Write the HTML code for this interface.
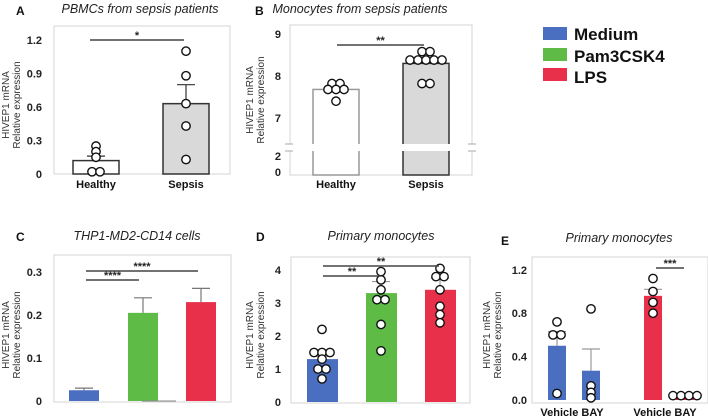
<!DOCTYPE html>
<html><head><meta charset="utf-8"><style>
body{margin:0;background:#fff}
svg{display:block;font-family:"Liberation Sans",sans-serif}
.tk{font-size:11px;font-weight:bold;fill:#222}
.yl{font-size:10px;fill:#333}
.tt{font-size:12.5px;font-style:italic;fill:#222}
.pl{font-size:12px;font-weight:bold;fill:#111}
.xl{font-size:11px;font-weight:bold;fill:#111}
</style></head><body>
<svg id="fig" width="708" height="420" viewBox="0 0 708 420">
<g>
<rect x="543" y="27" width="24" height="13" fill="#4a6fc0"/>
<text x="574" y="40" font-size="17" font-weight="bold" fill="#111">Medium</text>
<rect x="543" y="48" width="24" height="13" fill="#5dbb46"/>
<text x="574" y="62" font-size="17" font-weight="bold" fill="#111">Pam3CSK4</text>
<rect x="543" y="68" width="24" height="13" fill="#e8304a"/>
<text x="574" y="83" font-size="17" font-weight="bold" fill="#111">LPS</text>
</g>
</svg>
<script>
// Panel A
const aCats=["Healthy","Sepsis"];const aMeans=[0.12,0.63];const aErr=[0.16,0.8];
const aPts=[[0.25,0.2,0.15,0.02,0.02],[1.1,0.88,0.63,0.43,0.13]];const aTicks=[0,0.3,0.6,0.9,1.2];
// Panel B
const bCats=["Healthy","Sepsis"];const bMeans=[7.68,8.3];const bErr=[7.74,8.3];
const bPts=[[7.82,7.82,7.68,7.68,7.68,7.4],[8.58,8.58,8.38,8.38,8.38,8.38,8.38,7.82,7.82]];const bTicks=[7,8,9];const bLowTicks=[0,2];
// Panel C
const cMeans=[0.025,0.205,0.23];const cErr=[0.03,0.24,0.262];const cTicks=[0,0.1,0.2,0.3];
// Panel D
const dMeans=[1.3,3.3,3.4];const dErr=[1.38,3.65,3.75];
const dPts=[[2.2,1.5,1.5,1.5,1.3,1.0,1.0,0.7],[3.95,3.7,3.4,3.1,3.1,2.35,1.55],[4.05,3.8,3.8,3.4,2.9,2.65,2.4]];const dTicks=[0,1,2,3,4];
// Panel E
const eMeans=[0.5,0.27,0.96,0.04];const eErr=[0.63,0.47,1.02,0.04];
const ePts=[[0.72,0.6,0.6,0.06],[0.84,0.13,0.07,0.02],[1.12,1.0,0.9,0.8],[0.04,0.04,0.04,0.04]];const eTicks=[0,0.4,0.8,1.2];
const eTickLabels=["0.0","0.4","0.8","1.2"];

const svg=document.getElementById('fig');const NS="http://www.w3.org/2000/svg";
function mk(t,a,p){const e=document.createElementNS(NS,t);for(const k in a)e.setAttribute(k,a[k]);(p||svg).appendChild(e);return e;}
function txt(x,y,s,cls,extra){const e=mk('text',Object.assign({x:x,y:y,class:cls},extra||{}));e.textContent=s;return e;}
function frame(x0,y0,x1,y1,name){const r=mk('rect',{x:x0,y:y0,width:x1-x0,height:y1-y0,fill:'none',stroke:'#d4d4d4'});

}
function ylab(cx,cy,name){const g=mk('g',{transform:`translate(${cx},${cy}) rotate(-90)`});


const t1=mk('text',{x:0,y:0,class:'yl','text-anchor':'middle'},g);t1.textContent='HIVEP1 mRNA';
const t2=mk('text',{x:0,y:11,class:'yl','text-anchor':'middle'},g);t2.textContent='Relative  expression';}
function ticks(arr,labels,y,x,name){arr.forEach((v,i)=>{const t=txt(x,y(v)+4,labels?labels[i]:String(v),'tk',{'text-anchor':'end'});

});}
function bar(x0,w,y,v,fill,stroke,name){const r=mk('rect',{x:x0,y:y(v),width:w,height:y(0)-y(v),fill:fill,stroke:stroke,'stroke-width':stroke=='none'?0:1.5});

}
function err(cx,y,m,e,col){if(e<=m)return;const l=mk('line',{x1:cx,x2:cx,y1:y(m),y2:y(e),stroke:col,'stroke-width':1.2});


mk('line',{x1:cx-9,x2:cx+9,y1:y(e),y2:y(e),stroke:col,'stroke-width':1.2});}
function pts(cx,y,vals,name){const cnt={};vals.forEach(v=>{cnt[v]=(cnt[v]||0)+1;});const seen={};
vals.forEach(v=>{const n=cnt[v];const i=seen[v]=(seen[v]||0);seen[v]++;const dx=(i-(n-1)/2)*8;
const c=mk('circle',{cx:cx+dx,cy:y(v),r:4.2,fill:'#fff',stroke:'#111','stroke-width':1.4});

});}
function sig(x0,x1,yy,s,name){const l=mk('line',{x1:x0,x2:x1,y1:yy,y2:yy,stroke:'#444','stroke-width':1.5});


txt((x0+x1)/2,yy-1,s,'tk',{'text-anchor':'middle','font-size':10});}
function head(lx,ly,letter,tx,ty,title,name){const a=txt(lx,ly,letter,'pl');


const t=txt(tx,ty,title,'tt',{'text-anchor':'middle'});

}

// A
(function(){const y=v=>174-v*(134/1.2);frame(54,26,230,174,'panel-a');head(16,15,'A',140,13,'PBMCs from sepsis patients','panel-a');
ylab(9,105,'panel-a');ticks(aTicks,null,y,42,'panel-a');const cx=[96,186];
aCats.forEach((c,i)=>{bar(cx[i]-23,46,y,aMeans[i],i?'#d9d9d9':'#fff','#333','panel-a-bar-'+c.toLowerCase());err(cx[i],y,aMeans[i],aErr[i],'#333');pts(cx[i],y,aPts[i],'panel-a');
const t=txt(cx[i],188,c,'xl',{'text-anchor':'middle'});});
sig(90,184,40,'*','panel-a-sig');})();
// B
(function(){const y=v=>34+(9-v)*42;const yl=v=>172-v*8;frame(290,25,472,175,'panel-b');head(255,15,'B',360,13,'Monocytes from sepsis patients','panel-b');
ylab(253,100,'panel-b');ticks(bTicks,null,y,281,'panel-b');ticks(bLowTicks,null,yl,281,'panel-b');const cx=[336,426];
bCats.forEach((c,i)=>{const r=mk('rect',{x:cx[i]-23,y:y(bMeans[i]),width:46,height:175-y(bMeans[i]),fill:i?'#d9d9d9':'#fff',stroke:i?'#333':'#999','stroke-width':1.5});


err(cx[i],y,bMeans[i],bErr[i],'#333');pts(cx[i],y,bPts[i],'panel-b');
const t=txt(cx[i],188,c,'xl',{'text-anchor':'middle'});});
mk('rect',{x:285,y:144,width:192,height:7,fill:'#fff'});
[[285,144],[285,151],[468,144],[468,151]].forEach(p=>mk('line',{x1:p[0],x2:p[0]+8,y1:p[1],y2:p[1],stroke:'#aaa'}));
sig(337,424,45,'**','panel-b-sig');})();
// C
(function(){const y=v=>401-v*430;frame(54,255,231,402,'panel-c');head(16,241,'C',137,240,'THP1-MD2-CD14 cells','panel-c');
ylab(9,335,'panel-c');ticks(cTicks,null,y,42,'panel-c');const cx=[84,143,201];const cols=['#4a6fc0','#5dbb46','#e8304a'];
cMeans.forEach((m,i)=>{bar(cx[i]-15,30,y,m,cols[i],'none','panel-c-bar');err(cx[i],y,m,cErr[i],'#777');});
mk('line',{x1:142,x2:176,y1:401,y2:401,stroke:'#888','stroke-width':1});
sig(86,198,271,'****','panel-c-sig-lps');sig(86,139,280,'****','panel-c-sig-pam');})();
// D
(function(){const y=v=>402-v*33;frame(291,257,470,403,'panel-d');head(256,241,'D',381,240,'Primary monocytes','panel-d');
ylab(253,335,'panel-d');ticks(dTicks,null,y,281,'panel-d');const cx=[322,381,440];const cols=['#4a6fc0','#5dbb46','#e8304a'];
dMeans.forEach((m,i)=>{bar(cx[i]-15,31,y,m,cols[i],'none','panel-d-bar');err(cx[i],y,m,dErr[i],'#999');pts(cx[i],y,dPts[i],'panel-d');});
sig(323,439,266,'**','panel-d-sig-lps');sig(323,381,276,'**','panel-d-sig-pam');})();
// E
(function(){const y=v=>400-v*108.5;frame(532,257,708,403,'panel-e');head(501,245,'E',619,242,'Primary monocytes','panel-e');
ylab(490,335,'panel-e');ticks(eTicks,eTickLabels,y,527,'panel-e');const cx=[557,591,653,685];const cols=['#4a6fc0','#4a6fc0','#e8304a','#e8304a'];
eMeans.forEach((m,i)=>{bar(cx[i]-9,18,y,m,cols[i],'none','panel-e-bar');err(cx[i],y,m,eErr[i],'#999');pts(cx[i],y,ePts[i],'panel-e');});
[572,665].forEach(x=>{const t=txt(x,416,'Vehicle BAY','xl',{'text-anchor':'middle'});});
sig(656,684,268,'***','panel-e-sig');})();
</script>
</body></html>
